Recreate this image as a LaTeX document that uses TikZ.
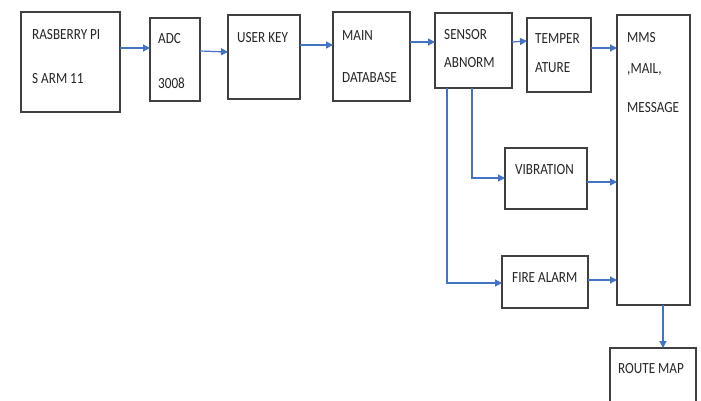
\documentclass[tikz,border=0pt]{standalone}
\usepackage{fontspec}
\setmainfont{Carlito}
\usetikzlibrary{arrows.meta}
\definecolor{linkblue}{HTML}{4472C4}
\definecolor{boxgray}{HTML}{404040}
\definecolor{txtgray}{HTML}{262626}
\newcommand\narrowtxt[1]{\scalebox{0.85}[1]{#1}}
\begin{document}
\begin{tikzpicture}[x=1pt,y=-1pt,
  blk/.style={draw=boxgray, line width=1.3pt, inner sep=0pt, outer sep=0pt, anchor=north west},
  lbl/.style={anchor=base west, inner sep=0pt, text=txtgray, font=\fontsize{15.5}{17}\selectfont},
  arr/.style={draw=linkblue, line width=1.2pt, -{Triangle[length=7pt,width=7pt]}}]
\clip (0,0) rectangle (701,400);
\fill[white] (0,0) rectangle (701,400);
% boxes
\node[blk, minimum width=99pt, minimum height=100pt] (rpi) at (21,12) {};
\node[blk, minimum width=50pt, minimum height=83pt] (adc) at (150,18) {};
\node[blk, minimum width=72pt, minimum height=84pt] (ukey) at (228,15) {};
\node[blk, minimum width=77pt, minimum height=89pt] (mdb) at (333,12) {};
\node[blk, minimum width=77pt, minimum height=75pt] (sens) at (435,13) {};
\node[blk, minimum width=64pt, minimum height=74pt] (temp) at (527,18) {};
\node[blk, minimum width=73pt, minimum height=290pt] (mms) at (617,15) {};
\node[blk, minimum width=82pt, minimum height=61pt] (vib) at (505,148) {};
\node[blk, minimum width=86pt, minimum height=52pt] (fire) at (502,256) {};
\node[blk, minimum width=86pt, minimum height=58pt] (route) at (610,348) {};
% labels
\node[lbl] (t1) at (32,39) {\narrowtxt{RASBERRY PI}};
\node[lbl] (t2) at (32,83) {\narrowtxt{S ARM 11}};
\node[lbl] (t3) at (158,43) {\narrowtxt{ADC}};
\node[lbl] (t4) at (158,88) {\narrowtxt{3008}};
\node[lbl] (t5) at (237,42) {\narrowtxt{USER KEY}};
\node[lbl] (t6) at (342,40) {\narrowtxt{MAIN}};
\node[lbl] (t7) at (342,82) {\narrowtxt{DATABASE}};
\node[lbl] (t8) at (444,39) {\narrowtxt{SENSOR}};
\node[lbl] (t9) at (444,67) {\narrowtxt{ABNORM}};
\node[lbl] (t10) at (535,43) {\narrowtxt{TEMPER}};
\node[lbl] (t11) at (535,72) {\narrowtxt{ATURE}};
\node[lbl] (t12) at (627,42) {\narrowtxt{MMS}};
\node[lbl] (t13) at (627,73) {\narrowtxt{,MAIL,}};
\node[lbl] (t14) at (627,112) {\narrowtxt{MESSAGE}};
\node[lbl] (t15) at (515,174) {\narrowtxt{VIBRATION}};
\node[lbl] (t16) at (512,282) {\narrowtxt{FIRE ALARM}};
\node[lbl] (t17) at (618,373) {\narrowtxt{ROUTE MAP}};
% connectors
\draw[arr] (rpi.east |- 0,48) -- (adc.west |- 0,48);
\draw[arr] (adc.east |- 0,51) -- (ukey.west |- 0,52);
\draw[arr] (ukey.east |- 0,45) -- (mdb.west |- 0,45);
\draw[arr] (mdb.east |- 0,42) -- (sens.west |- 0,42);
\draw[arr] (sens.east |- 0,42) -- (temp.west |- 0,41);
\draw[arr] (temp.east |- 0,48) -- (mms.west |- 0,48);
\draw[arr] (sens.south -| 472,0) |- (vib.west |- 0,178);
\draw[arr] (sens.south -| 447,0) |- (fire.west |- 0,283);
\draw[arr] (vib.east |- 0,182) -- (mms.west |- 0,182);
\draw[arr] (fire.east |- 0,280) -- (mms.west |- 0,280);
\draw[arr] (mms.south -| 663,0) -- (route.north -| 663,0);
\end{tikzpicture}
\end{document}
